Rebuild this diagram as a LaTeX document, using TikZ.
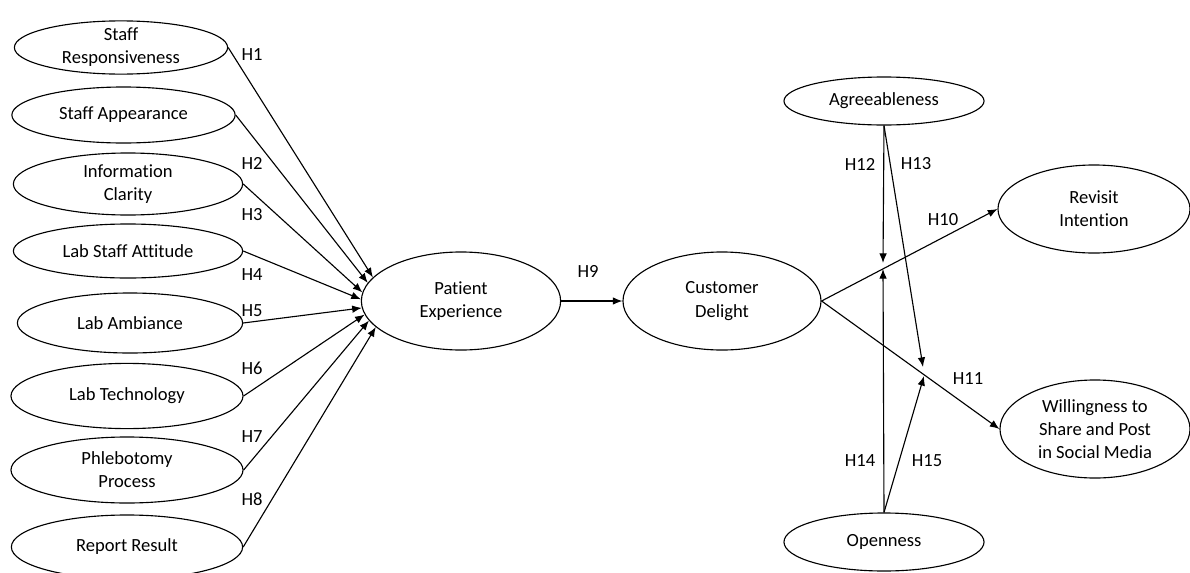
\documentclass[tikz,border=0pt]{standalone}
\usepackage{fontspec}
\setmainfont[Ligatures=NoCommon]{Carlito}
\usetikzlibrary{shapes.geometric,arrows.meta}

\tikzset{
    construct/.style={ellipse, draw, line width=0.8pt, inner xsep=0pt, inner ysep=-2pt, align=center, font=\fontsize{13.2}{16.5}\selectfont},
    hyp/.style={inner sep=1pt, font=\fontsize{13.2}{16.5}\selectfont},
    link/.style={->, line width=0.8pt}
}

\begin{document}
\begin{tikzpicture}[x=0.025cm,y=-0.025cm,>={Latex[length=2.4mm,width=1.9mm]}]
        \useasboundingbox (0,0) rectangle (1190,572);

        % draw the constructs on the left
        \node[construct, minimum width=5.33cm, minimum height=1.33cm] (sr) at (121,47.5) {Staff\\Responsiveness};
        \node[construct, minimum width=5.58cm, minimum height=1.4cm] (sa) at (123.5,115) {Staff Appearance};
        \node[construct, minimum width=5.73cm, minimum height=1.55cm] (ic) at (128,184) {Information\\Clarity};
        \node[construct, minimum width=5.73cm, minimum height=1.35cm] (lsa) at (128,251) {Lab Staff Attitude};
        \node[construct, minimum width=5.63cm, minimum height=1.5cm] (la) at (130,323) {Lab Ambiance};
        \node[construct, minimum width=5.8cm, minimum height=1.63cm] (lt) at (127,396) {Lab Technology};
        \node[construct, minimum width=5.8cm, minimum height=1.65cm] (pp) at (127,470) {Phlebotomy\\Process};
        \node[construct, minimum width=5.78cm, minimum height=1.6cm] (rr) at (127,547) {Report Result};

        % draw the middle constructs
        \node[construct, minimum width=4.98cm, minimum height=2.45cm] (pe) at (461,301) {Patient\\Experience};
        \node[construct, minimum width=4.95cm, minimum height=2.45cm] (cd) at (722,301) {Customer\\Delight};

        % draw the moderators and the outcomes
        \node[construct, minimum width=5cm, minimum height=1.2cm] (ag) at (884,101) {Agreeableness};
        \node[construct, minimum width=5cm, minimum height=1.45cm] (op) at (884,542) {Openness};
        \node[construct, minimum width=4.8cm, minimum height=2.2cm] (ri) at (1094,209) {Revisit\\Intention};
        \node[construct, minimum width=4.75cm, minimum height=2.45cm] (wi) at (1095,429) {Willingness to\\Share and Post\\in Social Media};

        % draw arrows into patient experience
        \foreach \src/\ang in {sr/165, sa/169.5, ic/175, lsa/179.5, la/184, lt/188, pp/192.5, rr/197}{
            \draw[link] (\src.east) -- (pe.\ang);
        }

        % hypothesis labels on the left
        \foreach \n/\y in {1/55, 2/163, 3/215, 4/275, 5/311, 6/368, 7/437, 8/499}{
            \node[hyp] (h\n) at (252,\y) {H\n};
        }

        % draw the main paths
        \draw[link] (pe.east) -- (cd.west);
        \draw[link] (cd.east) -- (ri.west);
        \draw[link] (cd.east) -- (wi.west);

        % draw the moderating arrows onto the paths
        \coordinate (m10a) at (883,263);
        \coordinate (m10b) at (883,269);
        \coordinate (m11a) at (923,367);
        \coordinate (m11b) at (924,376);
        \draw[link] (ag.south) -- (m10a);
        \draw[link] (ag.south) -- (m11a);
        \draw[link] (op.north) -- (m10b);
        \draw[link] (op.north) -- (m11b);

        % hypothesis labels on the right
        \node[hyp] (h9) at (588,271) {H9};
        \node[hyp] (h10) at (943,220) {H10};
        \node[hyp] (h11) at (968,379) {H11};
        \node[hyp] (h12) at (860,164) {H12};
        \node[hyp] (h13) at (916,164) {H13};
        \node[hyp] (h14) at (860,461) {H14};
        \node[hyp] (h15) at (927,461) {H15};
\end{tikzpicture}
\end{document}
